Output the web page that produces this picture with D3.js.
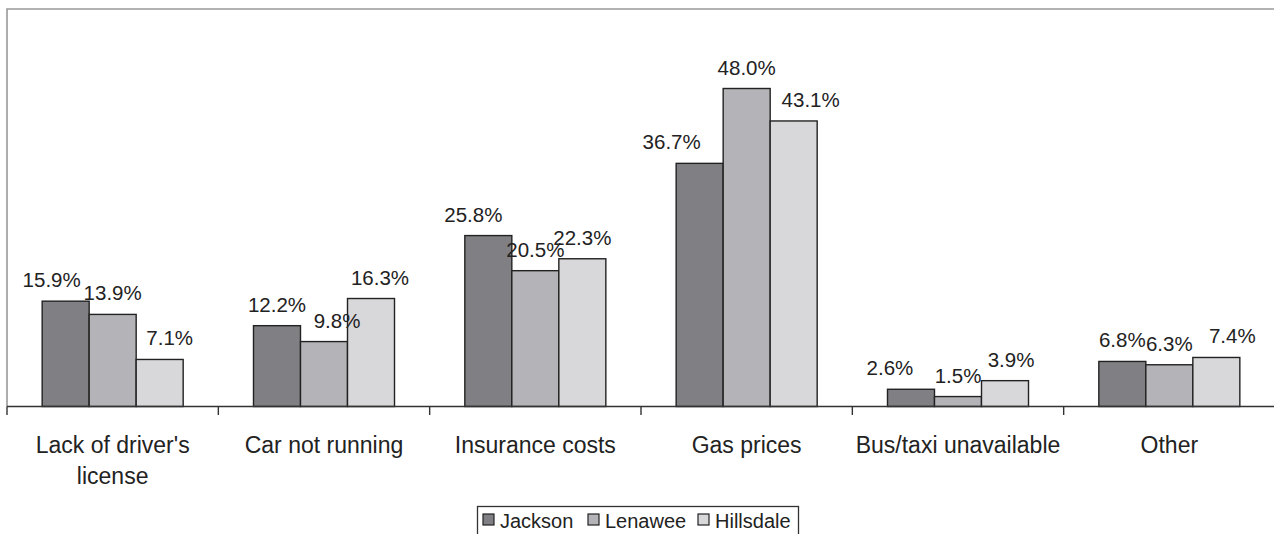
<!DOCTYPE html>
<html>
<head>
<meta charset="utf-8">
<script src="https://cdn.jsdelivr.net/npm/d3@7"></script>
<style>
  html, body { margin: 0; padding: 0; background: #fff; }
  svg { display: block; font-family: "Liberation Sans", Arial, sans-serif; }
</style>
</head>
<body>
<svg id="chart" width="1274" height="534"></svg>
<script>
// Reasons for transportation problems, by county (percent of respondents)
const categories = ["Lack of driver's license", "Car not running", "Insurance costs", "Gas prices", "Bus/taxi unavailable", "Other"];
const categoryLines = [["Lack of driver's", "license"], ["Car not running"], ["Insurance costs"], ["Gas prices"], ["Bus/taxi unavailable"], ["Other"]];
const seriesNames = ["Jackson", "Lenawee", "Hillsdale"];
const jackson   = [15.9, 12.2, 25.8, 36.7, 2.6, 6.8];
const lenawee   = [13.9,  9.8, 20.5, 48.0, 1.5, 6.3];
const hillsdale = [ 7.1, 16.3, 22.3, 43.1, 3.9, 7.4];
const yMax = 60;

const seriesValues = [jackson, lenawee, hillsdale];
const colors = ["#808084", "#b4b4b8", "#d8d8da"];

// Small horizontal nudges so neighbouring value labels don't collide
const labelNudge = [
  [-14, 0, 10], [0, 13, 9], [-15, 0, 0], [-28, 0, 17], [-21, 0, 6], [0, 0, 16]
];

const svg = d3.select("#chart");
const plot = { left: 7, top: 9, right: 1275, bottom: 406.5 };

const x = d3.scaleBand()
  .domain(categories)
  .range([plot.left, plot.right])
  .paddingInner(0).paddingOuter(0);

const xInner = d3.scaleBand()
  .domain(seriesNames)
  .range([0, x.bandwidth()])
  .paddingInner(0).paddingOuter(0.748);

const y = d3.scaleLinear().domain([0, yMax]).range([plot.bottom, plot.top]);

// Plot-area frame (left and top edges)
svg.append("path")
  .attr("d", `M${plot.left},${plot.bottom} V${plot.top} H${plot.right}`)
  .attr("fill", "none").attr("stroke", "#999").attr("stroke-width", 1.6);

// Bars
const groups = svg.append("g").selectAll("g")
  .data(categories)
  .join("g")
  .attr("transform", d => `translate(${x(d)},0)`);

groups.each(function(cat, ci) {
  const g = d3.select(this);
  seriesNames.forEach((s, si) => {
    const v = seriesValues[si][ci];
    g.append("rect")
      .attr("x", xInner(s))
      .attr("y", y(v))
      .attr("width", xInner.bandwidth())
      .attr("height", y(0) - y(v))
      .attr("fill", colors[si])
      .attr("stroke", "#222")
      .attr("stroke-width", 1.4);
  });
  seriesNames.forEach((s, si) => {
    const v = seriesValues[si][ci];
    g.append("text")
      .attr("x", xInner(s) + xInner.bandwidth() / 2 + labelNudge[ci][si])
      .attr("y", y(v) - 14)
      .attr("text-anchor", "middle")
      .attr("font-size", 20.5)
      .attr("fill", "#222")
      .text(d3.format(".1f")(v) + "%");
  });
});

// Category axis
const xAxis = d3.axisBottom(x).tickSize(0).tickFormat("");
const axisG = svg.append("g").attr("transform", `translate(0,${plot.bottom})`).call(xAxis);
axisG.select(".domain").attr("stroke", "#333").attr("stroke-width", 1.4)
  .attr("d", `M${plot.left},0H${plot.right}`);
// Tick marks between categories
axisG.selectAll(".sep")
  .data(categories)
  .join("line")
  .attr("class", "sep")
  .attr("x1", d => x(d)).attr("x2", d => x(d))
  .attr("y1", 0).attr("y2", 8.5)
  .attr("stroke", "#333").attr("stroke-width", 1.4);

// Category labels
svg.append("g").selectAll("text")
  .data(categories)
  .join("text")
  .attr("text-anchor", "middle")
  .attr("font-size", 23)
  .attr("fill", "#222")
  .each(function(d, i) {
    const t = d3.select(this);
    categoryLines[i].forEach((line, li) => {
      t.append("tspan")
        .attr("x", x(d) + x.bandwidth() / 2)
        .attr("y", 453 + li * 31)
        .text(line);
    });
  });

// Legend
const legend = svg.append("g");
legend.append("rect")
  .attr("x", 477.5).attr("y", 506.5)
  .attr("width", 321).attr("height", 40)
  .attr("fill", "#fff").attr("stroke", "#333").attr("stroke-width", 1.3);

const legendX = [483, 588, 698];
seriesNames.forEach((s, i) => {
  legend.append("rect")
    .attr("x", legendX[i]).attr("y", 514)
    .attr("width", 11).attr("height", 11)
    .attr("fill", colors[i]).attr("stroke", "#222").attr("stroke-width", 1.2);
  legend.append("text")
    .attr("x", legendX[i] + 17).attr("y", 527.5)
    .attr("font-size", 20).attr("fill", "#222")
    .text(s);
});
</script>
</body>
</html>
